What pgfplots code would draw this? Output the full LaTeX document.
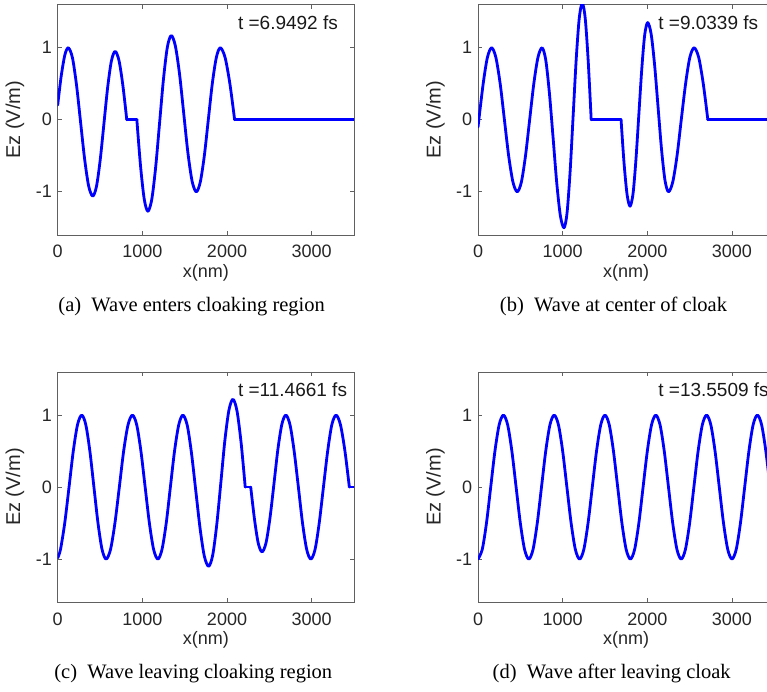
\documentclass[border=0pt]{standalone}
\usepackage{fontspec}
\setmainfont{Liberation Serif}
\newfontfamily\axfont{Liberation Sans}
\usepackage{pgfplots}
\pgfplotsset{compat=1.18}
\tikzset{wv/.style={color=blue, line width=2.8pt, line join=round, line cap=round},
  ttext/.style={anchor=west, inner sep=0pt, font=\axfont\fontsize{19}{21}\selectfont, text=black!90}}
\pgfplotsset{
  wavestyle/.style={
    scale only axis, width=296.3pt, height=230.4pt,
    xmin=0, xmax=3500, ymin=-1.6, ymax=1.6,
    xtick={0,1000,2000,3000}, xticklabels={0,1000,2000,3000},
    ytick={-1,0,1}, yticklabels={-1,0,1},
    tick align=inside, xtick pos=both, ytick pos=both,
    xticklabel pos=lower, yticklabel pos=left,
    major tick length=4pt,
    tick style={color=gray!75!black, line width=0.6pt},
    axis line style={color=gray!75!black, line width=0.7pt},
    ticklabel style={font=\axfont\fontsize{18}{20}\selectfont, inner sep=0pt, text=black!85},
    xticklabel style={anchor=center, yshift=-16.7pt},
    yticklabel style={anchor=east, xshift=-5.7pt},
    xlabel={x(nm)}, ylabel={Ez (V/m)},
    xlabel style={at={(axis description cs:0.5,-0.165)}, anchor=center, inner sep=0pt, font=\axfont\fontsize{18}{20}\selectfont, text=black!85},
    ylabel style={at={(axis description cs:-0.144,0.5)}, anchor=center, inner sep=0pt, font=\axfont\fontsize{20}{22}\selectfont, text=black!85},
  },
}
\begin{document}
\begin{tikzpicture}
% (a)
\begin{axis}[wavestyle, at={(57.7pt,457pt)}, anchor=south west]
\addplot[wv, smooth] coordinates {(0,0.204)(40,0.596)(85,0.903)(126,1.0)(174,0.862)(222,0.485)(270,-0.03)(318,-0.545)(366,-0.922)(414,-1.06)(458,-0.925)(502,-0.558)(546,-0.055)(590,0.448)(634,0.815)(678,0.95)(724,0.823)(770,0.475)(816,0)};
\addplot[wv] coordinates {(816,0)(935,0)};
\addplot[wv, smooth] coordinates {(935,0)(978,-0.635)(1022,-1.10)(1065,-1.27)(1111,-1.107)(1157,-0.66)(1203,-0.05)(1249,0.56)(1295,1.007)(1341,1.17)(1390,1.025)(1440,0.628)(1489,0.085)(1538,-0.458)(1588,-0.855)(1637,-1.0)(1684,-0.866)(1732,-0.5)(1779,0)(1826,0.5)(1874,0.866)(1921,1.0)(1977,0.866)(2034,0.5)(2090,0)};
\addplot[wv] coordinates {(2090,0)(3500,0)};
\node[ttext] at (axis cs:2128,1.35) {t =6.9492 fs};
\end{axis}
% (b)
\begin{axis}[wavestyle, at={(478pt,457pt)}, anchor=south west]
\addplot[wv, smooth] coordinates {(0,-0.1)(61,0.5)(111,0.866)(161,1)(211,0.866)(262,0.5)(312,0)(362,-0.5)(413,-0.866)(463,-1)(512,-0.866)(561,-0.5)(610,0)(659,0.5)(708,0.866)(757,1)(800,0.833)(843,0.375)(887,-0.25)(930,-0.875)(973,-1.333)(1016,-1.5)(1052,-1.291)(1088,-0.72)(1124,0.06)(1160,0.84)(1196,1.411)(1232,1.62)(1267,1.403)(1302,0.81)(1337,0)};
\addplot[wv] coordinates {(1337,0)(1690,0)};
\addplot[wv, smooth] coordinates {(1690,0)(1725,-0.6)(1761,-1.039)(1796,-1.2)(1831,-1.029)(1865,-0.5625)(1900,0.075)(1935,0.7125)(1969,1.179)(2004,1.35)(2045,1.193)(2086,0.7625)(2127,0.175)(2168,-0.4125)(2209,-0.843)(2250,-1)(2300,-0.866)(2351,-0.5)(2401,0)(2452,0.5)(2502,0.866)(2553,1)(2607,0.866)(2661,0.5)(2715,0)};
\addplot[wv] coordinates {(2715,0)(3500,0)};
\node[ttext] at (axis cs:2128,1.35) {t =9.0339 fs};
\end{axis}
% (c)
\begin{axis}[wavestyle, at={(57.7pt,89.7pt)}, anchor=south west]
\addplot[wv, smooth] coordinates {(0,-0.984)(33,-0.866)(83,-0.5)(134,0)(184,0.5)(234,0.866)(284,1)(332,0.866)(380,0.5)(428,0)(476,-0.5)(524,-0.866)(572,-1)(624,-0.866)(676,-0.5)(728,0)(779,0.5)(831,0.866)(883,1)(933,0.866)(983,0.5)(1033,0)(1083,-0.5)(1133,-0.866)(1183,-1)(1232,-0.866)(1282,-0.5)(1331,0)(1380,0.5)(1430,0.866)(1479,1)(1530,0.859)(1580,0.475)(1631,-0.05)(1682,-0.575)(1732,-0.959)(1783,-1.1)(1831,-0.945)(1879,-0.52)(1927,0.06)(1974,0.64)(2022,1.065)(2070,1.22)(2118,1.057)(2167,0.61)(2215,0)};
\addplot[wv] coordinates {(2215,0)(2280,0)};
\addplot[wv, smooth] coordinates {(2280,0)(2325,-0.45)(2369,-0.779)(2414,-0.9)(2461,-0.773)(2508,-0.425)(2555,0.05)(2601,0.525)(2648,0.873)(2695,1)(2744,0.866)(2793,0.5)(2843,0)(2892,-0.5)(2941,-0.866)(2990,-1)(3040,-0.866)(3089,-0.5)(3139,0)(3189,0.5)(3238,0.866)(3288,1)(3340,0.866)(3393,0.5)(3445,0)};
\addplot[wv] coordinates {(3445,0)(3500,0)};
\node[ttext] at (axis cs:2128,1.35) {t =11.4661 fs};
\end{axis}
% (d)
\begin{axis}[wavestyle, at={(478pt,89.7pt)}, anchor=south west]
\addplot[wv, smooth] coordinates {(0,-1)(50,-0.866)(100,-0.5)(150,0)(200,0.5)(250,0.866)(300,1)(350,0.866)(400,0.5)(450,0)(500,-0.5)(550,-0.866)(600,-1)(650,-0.866)(700,-0.5)(750,0)(800,0.5)(850,0.866)(900,1)(950,0.866)(1000,0.5)(1050,0)(1100,-0.5)(1150,-0.866)(1200,-1)(1250,-0.866)(1300,-0.5)(1350,0)(1400,0.5)(1450,0.866)(1500,1)(1550,0.866)(1600,0.5)(1650,0)(1700,-0.5)(1750,-0.866)(1800,-1)(1850,-0.866)(1900,-0.5)(1950,0)(2000,0.5)(2050,0.866)(2100,1)(2150,0.866)(2200,0.5)(2250,0)(2300,-0.5)(2350,-0.866)(2400,-1)(2450,-0.866)(2500,-0.5)(2550,0)(2600,0.5)(2650,0.866)(2700,1)(2750,0.866)(2800,0.5)(2850,0)(2900,-0.5)(2950,-0.866)(3000,-1)(3050,-0.866)(3100,-0.5)(3150,0)(3200,0.5)(3250,0.866)(3300,1)(3350,0.866)(3400,0.5)(3450,0)(3500,-0.5)};
\node[ttext] at (axis cs:2128,1.35) {t =13.5509 fs};
\end{axis}
% captions
\node[font=\fontsize{20.5}{23}\selectfont] at (191.7pt,385.3pt) {(a)\hspace{0.5em}Wave enters cloaking region};
\node[font=\fontsize{20.5}{23}\selectfont] at (613.5pt,385.3pt) {(b)\hspace{0.5em}Wave at center of cloak};
\node[font=\fontsize{20.5}{23}\selectfont] at (193.3pt,18.7pt) {(c)\hspace{0.5em}Wave leaving cloaking region};
\node[font=\fontsize{20.5}{23}\selectfont] at (611.7pt,18.7pt) {(d)\hspace{0.5em}Wave after leaving cloak};
\pgfresetboundingbox
\useasboundingbox (0pt,0pt) rectangle (767pt,692pt);
\end{tikzpicture}
\end{document}
